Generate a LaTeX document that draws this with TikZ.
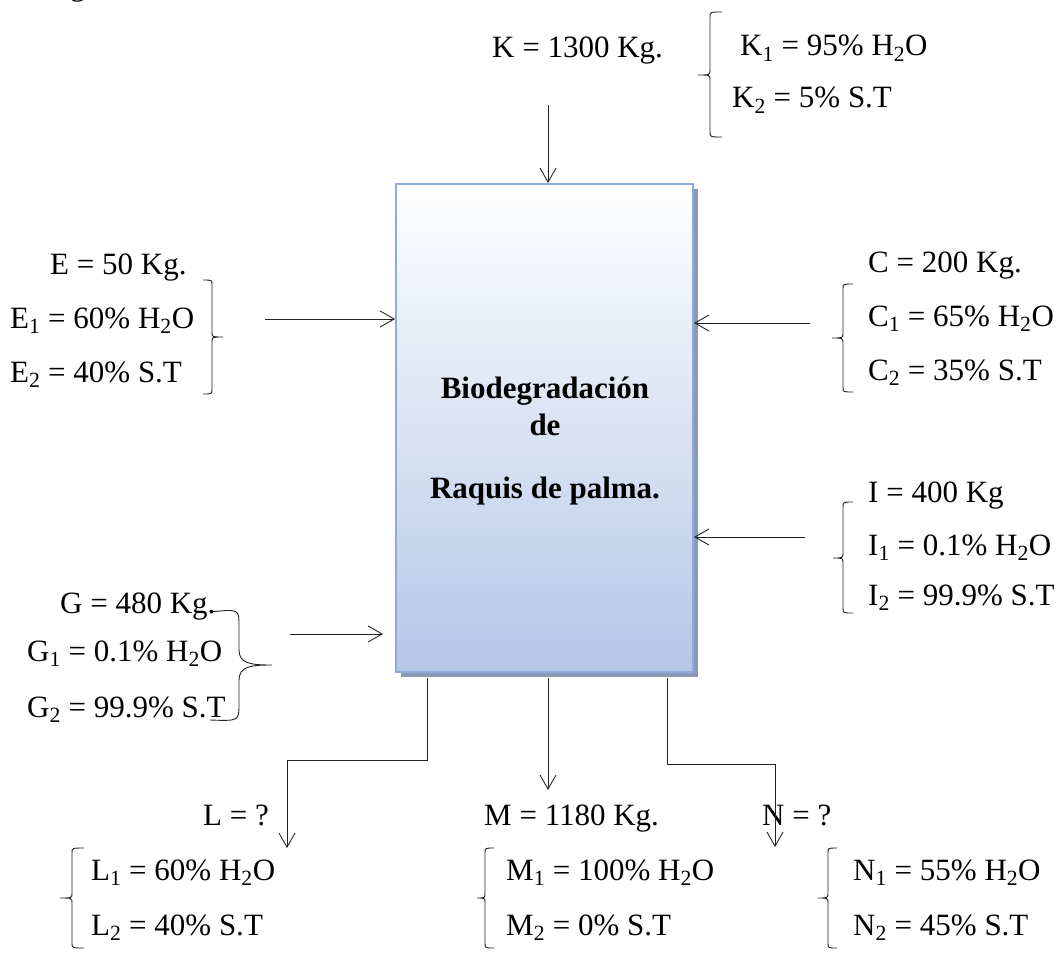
\documentclass[tikz,border=0pt]{standalone}
\usepackage{fontspec}
\setmainfont{Liberation Serif}
\usetikzlibrary{arrows.meta,shadows}
\definecolor{boxbot}{RGB}{180,199,231}
\definecolor{boxline}{RGB}{142,172,219}
\definecolor{boxshadow}{RGB}{138,153,182}
\definecolor{ink}{RGB}{35,35,35}
\tikzset{
 lbl/.style={font=\fontsize{31}{37}\selectfont, inner sep=0pt, anchor=base west},
 ttl/.style={font=\fontsize{31}{37}\selectfont\bfseries, inner sep=0pt, anchor=base},
 flow/.style={draw=ink, line width=0.9pt, -{Straight Barb[length=14pt,width=16pt]}},
 bracestroke/.style={draw=ink, line width=0.9pt},
 process/.style={draw=boxline, line width=2pt, top color=white, bottom color=boxbot,
   minimum width=297pt, minimum height=488pt,
   drop shadow={shadow xshift=5pt, shadow yshift=-5pt, fill=boxshadow, opacity=1}}
}
\newcommand{\braceshape}[6]{%
 \draw[bracestroke] (#1,#4) .. controls (#2,#4) .. (#2,#4+5) -- (#2,#5-5)
   .. controls (#2,#5) .. (#3,#5) .. controls (#2,#5) .. (#2,#5+5) -- (#2,#6-5)
   .. controls (#2,#6) .. (#1,#6);}
\begin{document}
\begin{tikzpicture}[x=1pt,y=-1pt]
\useasboundingbox (0,0) rectangle (1064,952);
% fragment of text above
\node[lbl] (frag) at (70,-4) {g};
% process box
\node[process] (box) at (544.5,428) {};
\node[ttl] (t1) at (545,398) {Biodegradación};
\node[ttl] (t2) at (545,435) {de};
\node[ttl] (t3) at (545,498) {Raquis de palma.};
% K
\node[lbl] (k) at (492,58) {K = 1300 Kg.};
\node[lbl] (k1) at (740,56) {K\textsubscript{1} = 95\% H\textsubscript{2}O};
\node[lbl] (k2) at (732,108) {K\textsubscript{2} = 5\% S.T};
\braceshape{722}{710}{698}{12}{75}{137}
\coordinate (kin) at (548,105);
\draw[flow] (kin) -- (kin |- box.north);
% E
\node[lbl] (e) at (50,274) {E = 50 Kg.};
\node[lbl] (e1) at (10,328) {E\textsubscript{1} = 60\% H\textsubscript{2}O};
\node[lbl] (e2) at (10,382) {E\textsubscript{2} = 40\% S.T};
\braceshape{203}{212}{223}{280}{337}{394}
\coordinate (ein) at (265,319);
\draw[flow] (ein) -- (ein -| box.west);
% C
\node[lbl] (c) at (868,272) {C = 200 Kg.};
\node[lbl] (c1) at (868,326) {C\textsubscript{1} = 65\% H\textsubscript{2}O};
\node[lbl] (c2) at (868,380) {C\textsubscript{2} = 35\% S.T};
\braceshape{853}{843}{832}{284}{338}{392}
\coordinate (cin) at (810,323);
\draw[flow] (cin) -- (cin -| box.east);
% I
\node[lbl] (i) at (868,502) {I = 400 Kg};
\node[lbl] (i1) at (868,555) {I\textsubscript{1} = 0.1\% H\textsubscript{2}O};
\node[lbl] (i2) at (868,605) {I\textsubscript{2} = 99.9\% S.T};
\braceshape{853}{843}{833}{502}{558}{613}
\coordinate (iin) at (805,537);
\draw[flow] (iin) -- (iin -| box.east);
% G
\node[lbl] (g) at (60,613) {G = 480 Kg.};
\node[lbl] (g1) at (27,661) {G\textsubscript{1} = 0.1\% H\textsubscript{2}O};
\node[lbl] (g2) at (27,717) {G\textsubscript{2} = 99.9\% S.T};
\draw[bracestroke] (210,612) .. controls (239,609) .. (239,626) -- (239,650)
   .. controls (239,664) and (252,665) .. (272,665)
   .. controls (252,665) and (239,666) .. (239,680) -- (239,704)
   .. controls (239,721) .. (210,720);
\coordinate (gin) at (290,634);
\coordinate (gend) at (383,634);
\draw[flow] (gin) -- (gend);
% L
\node[lbl] (l) at (203,825) {L = ?};
\node[lbl] (l1) at (91,880) {L\textsubscript{1} = 60\% H\textsubscript{2}O};
\node[lbl] (l2) at (91,935) {L\textsubscript{2} = 40\% S.T};
\braceshape{84}{72}{60}{848}{898}{948}
\coordinate (lbend) at (427,760);
\coordinate (lout) at (287,848);
\draw[flow] ([yshift=-5pt]lbend |- box.south) -- (lbend) -| (lout);
% M
\node[lbl] (m) at (484,825) {M = 1180 Kg.};
\node[lbl] (m1) at (506,880) {M\textsubscript{1} = 100\% H\textsubscript{2}O};
\node[lbl] (m2) at (506,935) {M\textsubscript{2} = 0\% S.T};
\braceshape{494}{485}{477}{848}{898}{948}
\coordinate (mout) at (548,790);
\draw[flow] ([yshift=-5pt]mout |- box.south) -- (mout);
% N
\node[lbl] (n) at (762,825) {N = ?};
\node[lbl] (n1) at (853,880) {N\textsubscript{1} = 55\% H\textsubscript{2}O};
\node[lbl] (n2) at (853,935) {N\textsubscript{2} = 45\% S.T};
\braceshape{837}{828}{818}{848}{898}{948}
\coordinate (nbend) at (667,764);
\coordinate (nout) at (775,847);
\draw[flow] ([yshift=-5pt]nbend |- box.south) -- (nbend) -| (nout);
\end{tikzpicture}
\end{document}
